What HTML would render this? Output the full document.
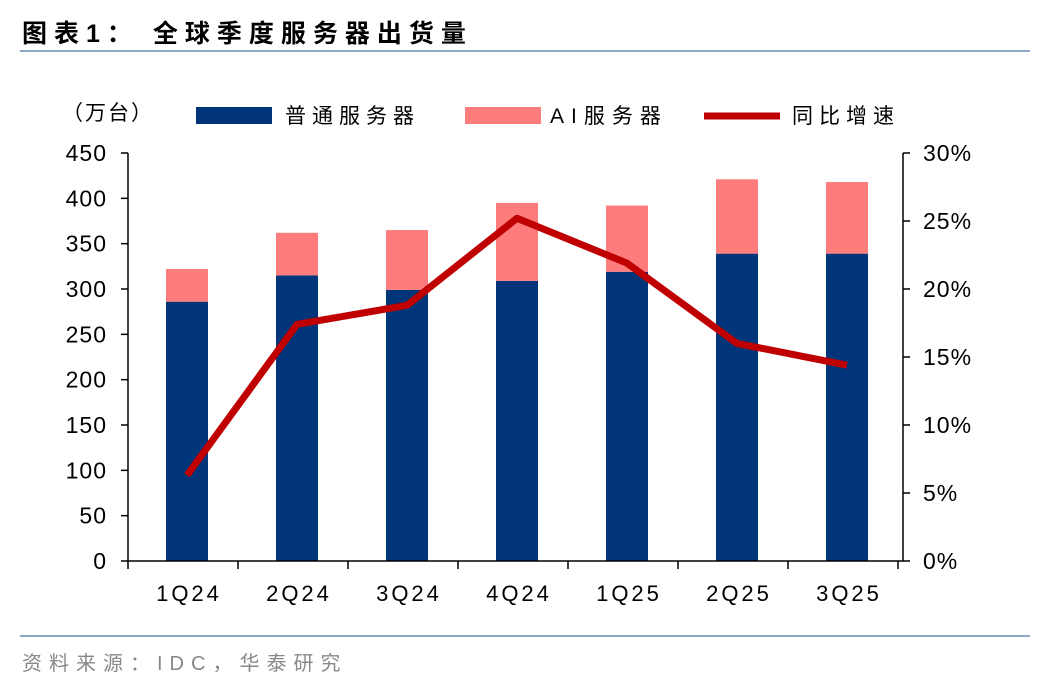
<!DOCTYPE html>
<html><head><meta charset="utf-8"><style>
body{margin:0;background:#fff;width:1048px;height:688px;overflow:hidden;font-family:"Liberation Sans","Noto Sans CJK SC",sans-serif;}
</style></head><body>
<svg id="chart" width="1048" height="688" xmlns="http://www.w3.org/2000/svg" font-family="Liberation Sans, Noto Sans CJK SC, sans-serif">
<text x="22" y="42" font-size="25" font-weight="bold" fill="#000" letter-spacing="7">图表1：  全球季度服务器出货量</text>
<line x1="20" y1="51" x2="1030" y2="51" stroke="#8fa8c4" stroke-width="2"/>
<line x1="20" y1="636" x2="1030" y2="636" stroke="#8fa8c4" stroke-width="2"/>
<text x="22" y="670" font-size="20" fill="#888" letter-spacing="7">资料来源：IDC，华泰研究</text>
<text x="62" y="120" font-size="21" fill="#000" letter-spacing="2">（万台）</text>
<rect x="196" y="107" width="76" height="17" fill="#003679"/>
<text x="285" y="123" font-size="21" letter-spacing="6">普通服务器</text>
<rect x="465" y="107" width="76" height="17" fill="#ff7c7c"/>
<text x="550" y="123" font-size="21" letter-spacing="7">AI服务器</text>
<line x1="704" y1="116" x2="780" y2="116" stroke="#c00000" stroke-width="7"/>
<text x="792" y="123" font-size="21" letter-spacing="6">同比增速</text>
<g id="plot"></g>
</svg>
<script>
const categories=["1Q24","2Q24","3Q24","4Q24","1Q25","2Q25","3Q25"];
const regularValues=[286,315,299,309,319,339,339];
const aiValues=[36,47,66,86,73,82,79];
const yoyValues=[6.3,17.4,18.8,25.2,21.9,16.0,14.4];
const leftTicks=[0,50,100,150,200,250,300,350,400,450];
const rightTicks=[0,5,10,15,20,25,30];

const NS="http://www.w3.org/2000/svg";
const g=document.getElementById('plot');
const X0=128,X1=903,Y0=561,Y1=153;
const PX0=132,band=110;
const xc=i=>PX0+band*(i+0.5);
const yL=v=>Y0-(v/450)*(Y0-Y1);
const yR=v=>Y0-(v/30)*(Y0-Y1);
function mk(t,a){const e=document.createElementNS(NS,t);for(const k in a)e.setAttribute(k,a[k]);g.appendChild(e);return e;}
const bw=42;
categories.forEach((c,i)=>{
  const b=mk('rect',{x:xc(i)-bw/2,y:yL(regularValues[i]),width:bw,height:Y0-yL(regularValues[i]),fill:'#003679'});
  
  
  const a=mk('rect',{x:xc(i)-bw/2,y:yL(regularValues[i]+aiValues[i]),width:bw,height:yL(regularValues[i])-yL(regularValues[i]+aiValues[i]),fill:'#ff7c7c'});
  
  
  const t=mk('text',{x:xc(i)+2,y:Y0+40,'font-size':22,'letter-spacing':3,'text-anchor':'middle'});t.textContent=c;
  
  
});
const ax=mk('path',{d:`M${X0},${Y1}V${Y0}H${X1}V${Y1}`,fill:'none',stroke:'#000','stroke-width':1.5});


for(let i=0;i<=categories.length;i++){const l=mk('line',{x1:Math.min(X1,PX0+band*i-4),x2:Math.min(X1,PX0+band*i-4),y1:Y0,y2:Y0+8,stroke:'#000','stroke-width':1.5});

}
leftTicks.forEach(v=>{const l=mk('line',{x1:X0-7,x2:X0,y1:yL(v),y2:yL(v),stroke:'#000','stroke-width':1.5});


const t=mk('text',{x:X0-21,y:yL(v)+8,'font-size':23,'letter-spacing':1,'text-anchor':'end'});t.textContent=v;

});
rightTicks.forEach(v=>{const l=mk('line',{x1:X1,x2:X1+7,y1:yR(v),y2:yR(v),stroke:'#000','stroke-width':1.5});


const t=mk('text',{x:X1+20,y:yR(v)+8,'font-size':23,'letter-spacing':1});t.textContent=v+'%';

});
const ln=mk('polyline',{points:yoyValues.map((v,i)=>xc(i)+','+yR(v)).join(' '),fill:'none',stroke:'#c00000','stroke-width':7,'stroke-linejoin':'round'});


</script>
</body></html>
